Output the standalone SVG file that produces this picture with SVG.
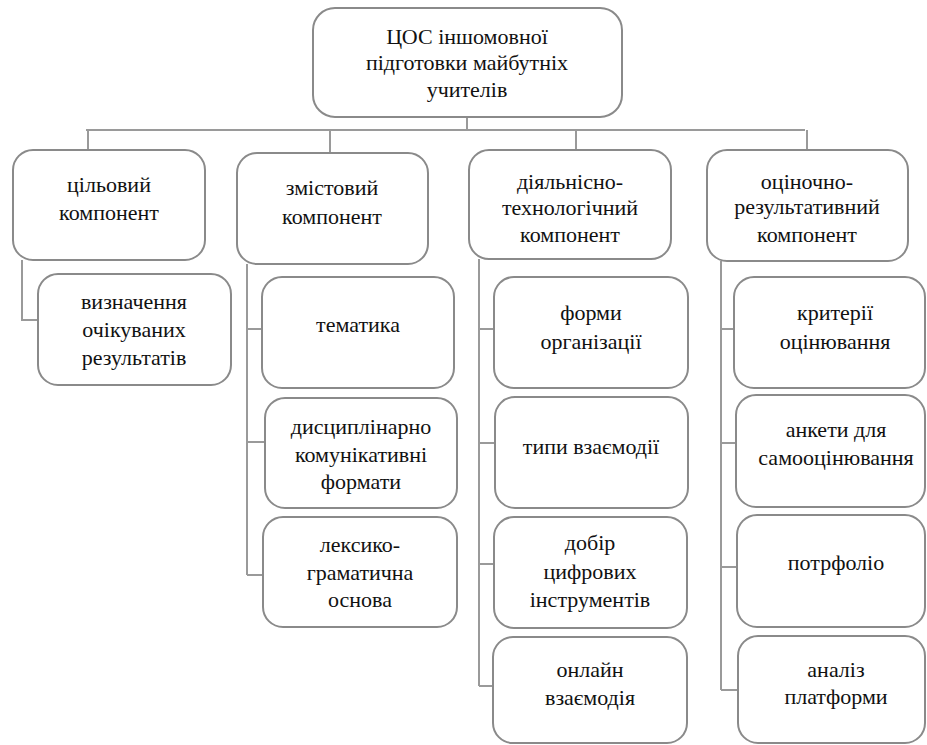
<svg xmlns="http://www.w3.org/2000/svg" width="927" height="745" viewBox="0 0 927 745">
<style>
  .box { fill: #ffffff; stroke: #8a8a8a; stroke-width: 2; }
  .con { fill: none; stroke: #9a9a9a; stroke-width: 2; }
  text { font-family: "Liberation Serif", "Times New Roman", serif; font-size: 22px; fill: #111111; text-anchor: middle; }
</style>
<rect width="927" height="745" fill="#ffffff"/>
<g id="connectors">
  <path class="con" d="M467 117 V130 M86 130 H805 M88 130 V150 M330 130 V153 M576 130 V150 M807 130 V150"/>
  <path class="con" d="M22 260 V320 H38"/>
  <path class="con" d="M247 264 V575 M247 329 H262 M247 442 H265 M247 575 H263"/>
  <path class="con" d="M479 259 V686 M479 329 H494 M479 443 H495 M479 564 H494 M479 686 H493"/>
  <path class="con" d="M721 261 V690 M721 329 H734 M721 443 H736 M721 567 H737 M721 690 H738"/>
</g>
<g id="root">
  <rect class="box" x="313" y="8" width="309" height="109" rx="22"/>
  <text x="467" y="44">ЦОС іншомовної</text>
  <text x="467" y="70">підготовки майбутніх</text>
  <text x="467" y="97">учителів</text>
</g>
<g id="n1">
  <rect class="box" x="13" y="150" width="192" height="110" rx="20"/>
  <text x="109" y="192">цільовий</text>
  <text x="109" y="220">компонент</text>
</g>
<g id="n2">
  <rect class="box" x="237" y="153" width="191" height="111" rx="20"/>
  <text x="332" y="195">змістовий</text>
  <text x="332" y="224">компонент</text>
</g>
<g id="n3">
  <rect class="box" x="469" y="150" width="202" height="109" rx="20"/>
  <text x="570" y="189">діяльнісно-</text>
  <text x="570" y="215">технологічний</text>
  <text x="570" y="242">компонент</text>
</g>
<g id="n4">
  <rect class="box" x="707" y="150" width="201" height="111" rx="20"/>
  <text x="807" y="189">оціночно-</text>
  <text x="807" y="214">результативний</text>
  <text x="807" y="242">компонент</text>
</g>
<g id="c11">
  <rect class="box" x="38" y="274" width="193" height="111" rx="20"/>
  <text x="134" y="309">визначення</text>
  <text x="134" y="337">очікуваних</text>
  <text x="134" y="365">результатів</text>
</g>
<g id="c21">
  <rect class="box" x="262" y="277" width="192" height="111" rx="20"/>
  <text x="358" y="332">тематика</text>
</g>
<g id="c22">
  <rect class="box" x="265" y="398" width="192" height="110" rx="20"/>
  <text x="361" y="434">дисциплінарно</text>
  <text x="361" y="462">комунікативні</text>
  <text x="361" y="489">формати</text>
</g>
<g id="c23">
  <rect class="box" x="263" y="517" width="194" height="110" rx="20"/>
  <text x="360" y="552">лексико-</text>
  <text x="360" y="580">граматична</text>
  <text x="360" y="607">основа</text>
</g>
<g id="c31">
  <rect class="box" x="494" y="277" width="194" height="111" rx="20"/>
  <text x="591" y="320">форми</text>
  <text x="591" y="349">організації</text>
</g>
<g id="c32">
  <rect class="box" x="495" y="397" width="193" height="111" rx="20"/>
  <text x="591" y="454">типи взаємодії</text>
</g>
<g id="c33">
  <rect class="box" x="494" y="517" width="193" height="111" rx="20"/>
  <text x="590" y="550">добір</text>
  <text x="590" y="579">цифрових</text>
  <text x="590" y="607">інструментів</text>
</g>
<g id="c34">
  <rect class="box" x="493" y="637" width="194" height="106" rx="20"/>
  <text x="590" y="677">онлайн</text>
  <text x="590" y="705">взаємодія</text>
</g>
<g id="c41">
  <rect class="box" x="734" y="277" width="191" height="111" rx="20"/>
  <text x="835" y="320">критерії</text>
  <text x="835" y="349">оцінювання</text>
</g>
<g id="c42">
  <rect class="box" x="736" y="395" width="189" height="112" rx="20"/>
  <text x="836" y="437">анкети для</text>
  <text x="836" y="465">самооцінювання</text>
</g>
<g id="c43">
  <rect class="box" x="737" y="515" width="188" height="112" rx="20"/>
  <text x="836" y="570">потрфоліо</text>
</g>
<g id="c44">
  <rect class="box" x="738" y="636" width="187" height="107" rx="20"/>
  <text x="836" y="677">аналіз</text>
  <text x="836" y="704">платформи</text>
</g>
</svg>
